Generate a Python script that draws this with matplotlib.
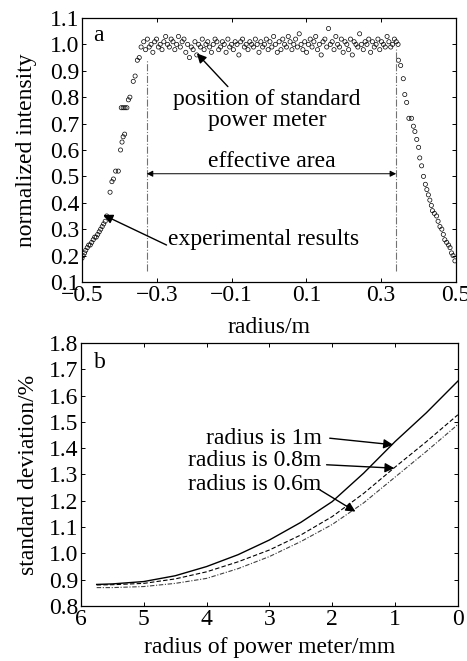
import numpy as np
import matplotlib
matplotlib.use("Agg")
import matplotlib.pyplot as plt

plt.rcParams['font.family'] = ['Liberation Serif', 'DejaVu Serif']
plt.rcParams['mathtext.fontset'] = 'stix'
FS = 17

# ---------------- panel a data ----------------
left_x = [-0.500, -0.497, -0.493, -0.490, -0.486, -0.482, -0.478, -0.474, -0.470,
          -0.466, -0.462, -0.458, -0.454, -0.450, -0.446, -0.442, -0.438, -0.434,
          -0.425, -0.420, -0.416, -0.410, -0.403, -0.397, -0.393, -0.390, -0.386,
          -0.395, -0.390, -0.385, -0.380, -0.376, -0.372, -0.363, -0.358, -0.352,
          -0.347, -0.342]
left_y = [0.19, 0.20, 0.21, 0.22, 0.23, 0.24, 0.24, 0.25, 0.26,
          0.27, 0.27, 0.28, 0.29, 0.30, 0.31, 0.32, 0.33, 0.35,
          0.44, 0.48, 0.49, 0.52, 0.52, 0.60, 0.63, 0.65, 0.66,
          0.76, 0.76, 0.76, 0.76, 0.79, 0.80, 0.86, 0.88, 0.94,
          0.95, 0.99]

plateau_y = [
    1.01, 0.98, 1.02, 0.99, 1.00, 0.97, 1.01, 1.02, 0.99, 1.00,
    0.98, 1.01, 1.03, 1.00, 0.99, 1.02, 1.01, 0.98, 1.00, 1.03,
    0.99, 1.01, 1.02, 0.97, 1.00, 0.95, 0.99, 0.98, 1.01, 0.96,
    1.00, 0.99, 1.02, 0.98, 1.00, 1.01, 0.99, 0.97, 1.00, 1.02,
    1.01, 0.98, 0.99, 1.01, 1.00, 0.97, 1.02, 0.99, 1.00, 0.98,
    1.01, 1.00, 0.96, 1.01, 1.02, 0.99, 1.00, 0.98, 1.01, 1.00,
    0.99, 1.02, 1.00, 0.97, 1.01, 0.99, 1.00, 1.02, 0.98, 1.01,
    0.99, 1.03, 1.00, 0.97, 1.01, 0.98, 1.02, 1.00, 0.99, 1.03,
    1.01, 0.98, 1.00, 1.02, 0.99, 1.04, 1.00, 0.98, 1.01, 0.97,
    1.00, 1.02, 0.99, 1.01, 1.03, 0.98, 1.00, 0.96, 1.01, 1.02,
    0.99, 1.06, 1.00, 1.01, 0.98, 1.03, 1.00, 0.99, 1.02, 0.97,
    1.01, 1.00, 0.98, 1.02, 0.96, 1.01, 1.00, 0.99, 1.04, 1.00,
    0.98, 1.01, 1.00, 1.02, 0.97, 1.01, 0.99, 1.00, 1.02, 0.98,
    1.01, 1.00, 0.99, 1.03, 1.01, 0.99, 1.00, 1.02, 1.01, 1.00]
plateau_x = np.linspace(-0.335, 0.345, len(plateau_y))

right_x = [0.346, 0.352, 0.359, 0.363, 0.368, 0.374, 0.381, 0.386, 0.390, 0.395,
           0.400, 0.403, 0.408, 0.413, 0.418, 0.422, 0.426, 0.430, 0.434, 0.437,
           0.442, 0.448, 0.452, 0.457, 0.462, 0.466, 0.470, 0.475, 0.480, 0.484,
           0.488, 0.492, 0.497]
right_y = [0.94, 0.92, 0.87, 0.81, 0.78, 0.72, 0.72, 0.69, 0.67, 0.64,
           0.61, 0.57, 0.54, 0.50, 0.47, 0.45, 0.43, 0.41, 0.39, 0.37,
           0.36, 0.35, 0.33, 0.31, 0.30, 0.28, 0.26, 0.25, 0.24, 0.23,
           0.21, 0.20, 0.18]

xa_ticks = [-0.5, -0.3, -0.1, 0.1, 0.3, 0.5]
ya_ticks = [0.1, 0.2, 0.3, 0.4, 0.5, 0.6, 0.7, 0.8, 0.9, 1.0, 1.1]
edge_left, edge_right = -0.327, 0.34

# ---------------- panel b data ----------------
xb = [5.75, 5.5, 5.0, 4.5, 4.0, 3.5, 3.0, 2.5, 2.0, 1.5, 1.0, 0.5, 0.0]
r1m = [0.882, 0.884, 0.893, 0.915, 0.950, 0.995, 1.051, 1.118, 1.197, 1.305, 1.425, 1.535, 1.655]
r08m = [0.880, 0.881, 0.886, 0.903, 0.930, 0.968, 1.013, 1.070, 1.140, 1.228, 1.328, 1.425, 1.527]
r06m = [0.870, 0.870, 0.874, 0.886, 0.905, 0.942, 0.988, 1.045, 1.110, 1.192, 1.290, 1.388, 1.490]
xb_ticks = [6, 5, 4, 3, 2, 1, 0]
yb_ticks = [0.8, 0.9, 1.0, 1.1, 1.2, 1.3, 1.4, 1.5, 1.6, 1.7, 1.8]

fig = plt.figure(figsize=(4.67, 6.61), dpi=100)
axa = fig.add_axes([0.1756, 0.5734, 0.8009, 0.3994])
axb = fig.add_axes([0.1734, 0.0832, 0.8070, 0.3979])

def style(ax):
    ax.tick_params(direction='in', top=True, right=True, labelsize=FS,
                   length=3, width=0.7, pad=2)
    for s in ax.spines.values():
        s.set_linewidth(0.9)

# panel a
allx = list(left_x) + list(plateau_x) + list(right_x)
ally = list(left_y) + list(plateau_y) + list(right_y)
axa.scatter(allx, ally, s=9, facecolors='none', edgecolors='black', linewidths=0.5)
axa.plot([edge_left, edge_left], [0.14, 0.94], color='0.45', lw=0.8, ls='-.')
axa.plot([edge_right, edge_right], [0.14, 0.99], color='0.45', lw=0.8, ls='-.')
axa.annotate('', xy=(edge_left, 0.51), xytext=(edge_right, 0.51),
             arrowprops=dict(arrowstyle='<|-|>', color='black', lw=0.7,
                             mutation_scale=9, shrinkA=0, shrinkB=0))
axa.text(0.007, 0.555, 'effective area', ha='center', va='center', fontsize=FS)
axa.text(-0.005, 0.75, 'position of standard\npower meter', ha='center', va='center',
         fontsize=FS, linespacing=1.0)
axa.annotate('', xy=(-0.193, 0.966), xytext=(-0.11, 0.84),
             arrowprops=dict(arrowstyle='-|>', color='black', lw=1.0,
                             mutation_scale=14, shrinkA=0, shrinkB=0))
axa.text(-0.27, 0.262, 'experimental results', ha='left', va='center', fontsize=FS)
axa.annotate('', xy=(-0.443, 0.354), xytext=(-0.274, 0.24),
             arrowprops=dict(arrowstyle='-|>', color='black', lw=1.0,
                             mutation_scale=14, shrinkA=0, shrinkB=0))
axa.text(-0.47, 1.035, 'a', ha='left', va='center', fontsize=FS)
axa.set_xlim(-0.5, 0.5)
axa.set_ylim(0.1, 1.1)
axa.set_xticks(xa_ticks)
axa.set_xticklabels(['\u22120.5', '\u22120.3', '\u22120.1', '0.1', '0.3', '0.5'])
axa.set_yticks(ya_ticks)
axa.set_yticklabels([f'{v:.1f}' for v in ya_ticks])
axa.set_xlabel('radius/m', fontsize=FS, labelpad=8)
axa.set_ylabel('normalized intensity', fontsize=FS, labelpad=9)
style(axa)

# panel b
axb.plot(xb, r1m, color='black', lw=1.0, ls='-')
axb.plot(xb, r08m, color='black', lw=0.8, ls=(0, (4, 2)))
axb.plot(xb, r06m, color='0.25', lw=0.8, ls=(0, (4, 1.5, 1, 1.5)))
axb.text(2.17, 1.438, 'radius is 1m', ha='right', va='center', fontsize=FS)
axb.text(2.17, 1.352, 'radius is 0.8m', ha='right', va='center', fontsize=FS)
axb.text(2.17, 1.262, 'radius is 0.6m', ha='right', va='center', fontsize=FS)
for (x0, y0, x1, y1) in [(2.04, 1.438, 1.03, 1.413),
                         (2.09, 1.337, 1.01, 1.324),
                         (2.2, 1.242, 1.63, 1.159)]:
    axb.annotate('', xy=(x1, y1), xytext=(x0, y0),
                 arrowprops=dict(arrowstyle='-|>', color='black', lw=1.0,
                                 mutation_scale=14, shrinkA=0, shrinkB=0))
axb.text(5.8, 1.724, 'b', ha='left', va='center', fontsize=FS)
axb.set_xlim(6, 0)
axb.set_ylim(0.8, 1.8)
axb.set_xticks(xb_ticks)
axb.set_yticks(yb_ticks)
axb.set_yticklabels([f'{v:.1f}' for v in yb_ticks])
axb.set_xlabel('radius of power meter/mm', fontsize=FS, labelpad=5)
axb.set_ylabel('standard deviation/%', fontsize=FS, labelpad=7)
style(axb)

fig.savefig('out.png', dpi=100)
